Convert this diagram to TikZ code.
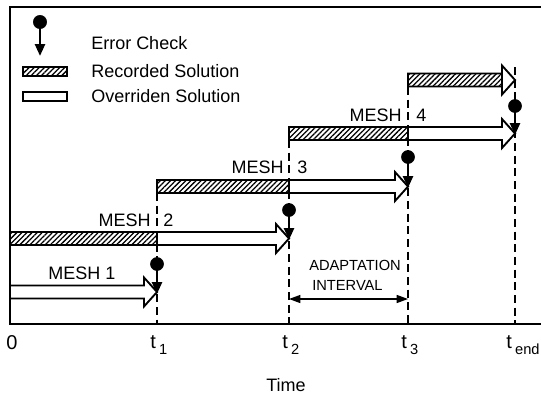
\documentclass[tikz,border=0pt]{standalone}
\usepackage{fontspec}
\setmainfont{Liberation Sans}
\usetikzlibrary{arrows.meta,calc,patterns.meta,positioning}

\tikzset{
  frame/.style={line width=1.3pt},
  tline/.style={line width=1.2pt, dash pattern=on 6pt off 3.5pt},
  recorded/.style={line width=1.4pt, pattern={Lines[angle=45,distance=2.7pt,line width=0.95pt]}},
  overriden/.style={line width=1.4pt, fill=white},
  check/.style={line width=1.9pt, -{Triangle[length=9pt,width=7.5pt]}},
  interval/.style={line width=1pt, {Triangle[length=8.5pt,width=6pt]}-{Triangle[length=8.5pt,width=6pt]}},
  lbl/.style={font=\fontsize{13.5}{16}\selectfont, inner sep=0pt},
  smalllbl/.style={font=\fontsize{11}{13}\selectfont, inner sep=0pt},
  ticklbl/.style={font=\fontsize{15}{17}\selectfont, inner sep=0pt},
}

% white solution arrow: start x, tip x, mid y
\newcommand{\solarrow}[3]{%
  \filldraw [overriden] (#1,{#3-6.5}) -- ({#2-13},{#3-6.5}) -- ({#2-13},{#3-14.5})
    -- (#2,#3) -- ({#2-13},{#3+14.5}) -- ({#2-13},{#3+6.5}) -- (#1,{#3+6.5}) -- cycle;}
% hatched recorded part: start x, end x, mid y
\newcommand{\recbar}[3]{%
  \draw [recorded] (#1,{#3-6.5}) rectangle (#2,{#3+6.5});}
\newcommand{\tsub}[1]{\,\raisebox{-0.6ex}{\fontsize{11}{12}\selectfont #1}}

\begin{document}
\begin{tikzpicture}[x=0.75pt,y=-0.75pt]
\useasboundingbox (0,0) rectangle (541,397);

\coordinate (t0) at (10,324);
\coordinate (t1) at (157,324);
\coordinate (t2) at (289,324);
\coordinate (t3) at (408,324);
\coordinate (tend) at (515,324);
\draw [frame] (541,7) -- (10,7) -- (t0) -- (541,324);

\coordinate (t1top) at (157,193);
\coordinate (t2top) at (289,140);
\coordinate (t3top) at (408,87);
\coordinate (tendtop) at (515,67);
\draw [tline] (t1top) to (t1);
\draw [tline] (t2top) to (t2);
\draw [tline] (t3top) to (t3);
\draw [tline] (tendtop) to (tend);

%meshes
\solarrow{10}{157}{292}
\recbar{10}{157}{238.5}
\solarrow{157}{289}{238.5}
\recbar{157}{289}{186.5}
\solarrow{289}{408}{186.5}
\recbar{289}{408}{133.5}
\solarrow{408}{515}{133.5}
\solarrow{408}{515}{80}
\recbar{408}{502}{80}

%error checks
\coordinate (chk1) at (157,264);
\coordinate (hit1) at (157,294);
\draw [check] (chk1) to (hit1);
\filldraw (chk1) circle [radius=4.9pt];

\coordinate (chk2) at (289,210);
\coordinate (hit2) at (289,240);
\draw [check] (chk2) to (hit2);
\filldraw (chk2) circle [radius=4.9pt];

\coordinate (chk3) at (408,157);
\coordinate (hit3) at (408,188);
\draw [check] (chk3) to (hit3);
\filldraw (chk3) circle [radius=4.9pt];

\coordinate (chk4) at (515,106);
\coordinate (hit4) at (515,135);
\draw [check] (chk4) to (hit4);
\filldraw (chk4) circle [radius=4.9pt];

%legend
\coordinate (chk0) at (40,22);
\coordinate (hit0) at (40,56);
\draw [check] (chk0) to (hit0);
\filldraw (chk0) circle [radius=5pt];
\draw [recorded] (23,67) rectangle (67,76);
\draw [overriden] (23,92) rectangle (67,101);
\node [lbl, anchor=west] (errlbl) at (91,43) {Error Check};
\node [lbl, anchor=west] (reclbl) at (91,71) {Recorded Solution};
\node [lbl, anchor=west] (ovrlbl) at (91,96) {Overriden Solution};

%labels
\node [lbl] (mesh1) at (82,273) {MESH 1};
\node [lbl, anchor=east] (mesh2) at (151,220) {MESH};
\node [lbl, anchor=west] (num2) at (163,220) {2};
\node [lbl, anchor=east] (mesh3) at (284,167) {MESH};
\node [lbl, anchor=west] (num3) at (297,167) {3};
\node [lbl, anchor=east] (mesh4) at (402,115) {MESH};
\node [lbl, anchor=west] (num4) at (416,115) {4};

\node [smalllbl, anchor=west] (adapt) at (309,265) {ADAPTATION};
\node [smalllbl, anchor=west] (intv) at (312,285) {INTERVAL};
\coordinate (ia) at (289,299);
\coordinate (ib) at (408,299);
\draw [interval] (ia) to (ib);

\node [ticklbl] (l0) at (12,343) {0};
\node [ticklbl, anchor=base west] (lt1) at (150,348) {t\tsub{1}};
\node [ticklbl, anchor=base west] (lt2) at (282,348) {t\tsub{2}};
\node [ticklbl, anchor=base west] (lt3) at (401,348) {t\tsub{3}};
\node [ticklbl, anchor=base west] (ltend) at (506,348) {t\tsub{end}};
\node [lbl] (time) at (286,385) {Time};

\end{tikzpicture}
\end{document}
